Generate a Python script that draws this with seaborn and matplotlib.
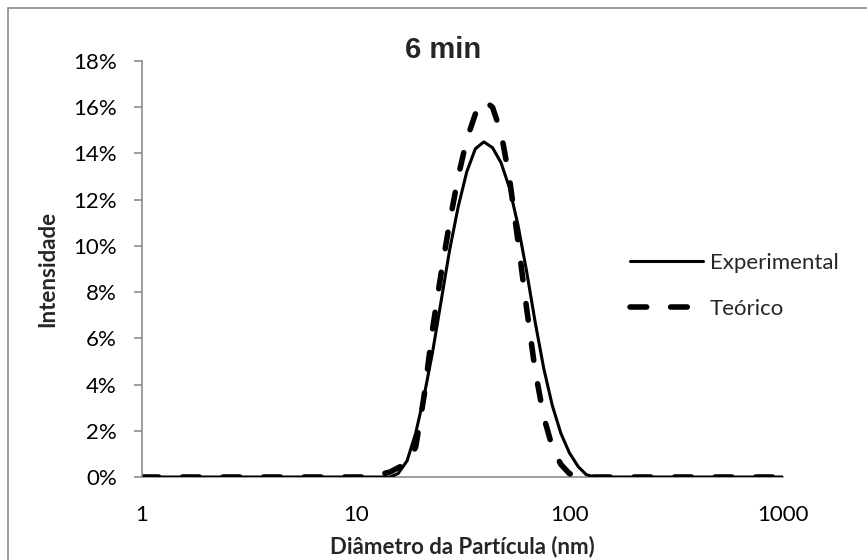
import matplotlib
matplotlib.use("Agg")
import matplotlib.pyplot as plt
from matplotlib.patches import Rectangle
from matplotlib.ticker import FixedLocator, NullLocator, PercentFormatter
import pandas as pd
import seaborn as sns

# Particle size distribution, 6 min sample (diameter in nm, intensity in %)
diam_exp = [1, 2, 3, 5, 8, 10, 12, 13.2, 14.5, 15.8, 17.4, 19.1, 20.9, 22.9, 25.1,
            27.5, 30.2, 33.1, 36.3, 39.8, 43.7, 47.9, 52.5, 57.5, 63.1, 69.2,
            75.9, 83.2, 91.2, 100, 110, 120, 132, 150, 200, 300, 500, 700, 1000]
int_exp = [0, 0, 0, 0, 0, 0, 0, 0, 0, 0.15, 0.7, 1.9, 3.5, 5.4, 7.6,
           9.8, 11.7, 13.2, 14.2, 14.5, 14.25, 13.6, 12.5, 10.9, 8.9, 6.7,
           4.7, 3.1, 1.9, 1.05, 0.45, 0.1, 0, 0, 0, 0, 0, 0, 0]

diam_teo = [1, 2, 3, 5, 8, 10, 11.0, 12.0, 13.2, 14.5, 15.8, 17.4, 19.1, 20.9,
            22.9, 25.1, 27.5, 30.2, 33.1, 36.3, 39.8, 43.7, 47.9, 52.5, 57.5,
            63.1, 69.2, 75.9, 83.2, 91.2, 100, 110, 120, 150, 200, 300, 500,
            700, 1000]
int_teo = [0, 0, 0, 0, 0, 0, 0, 0.02, 0.12, 0.22, 0.4, 0.6, 1.3, 3.5,
           6.4, 8.8, 11.0, 13.0, 14.6, 15.7, 16.3, 16.0, 14.9, 12.9, 10.2,
           7.3, 4.6, 2.6, 1.3, 0.55, 0.15, 0, 0, 0, 0, 0, 0, 0, 0]

x_ticks = [1, 10, 100, 1000]
x_tick_labels = ["1", "10", "100", "1000"]
y_ticks = [0, 2, 4, 6, 8, 10, 12, 14, 16, 18]

exp_df = pd.DataFrame({"diametro": diam_exp, "intensidade": int_exp})
teo_df = pd.DataFrame({"diametro": diam_teo, "intensidade": int_teo})

sns.set_style("white")
plt.rcParams["font.family"] = ["Lato", "DejaVu Sans"]

W, H = 867, 560
fig = plt.figure(figsize=(W / 100, H / 100), dpi=100)
ax = fig.add_axes([142 / W, (H - 477) / H, (783 - 142) / W, (477 - 61) / H])

sns.lineplot(data=exp_df, x="diametro", y="intensidade", ax=ax, color="black",
             linewidth=2.2, errorbar=None, label="Experimental",
             solid_joinstyle="round")
sns.lineplot(data=teo_df, x="diametro", y="intensidade", ax=ax, color="black",
             linewidth=4.0, errorbar=None, label="Teórico",
             linestyle=(0, (3.0, 4.3)), dash_capstyle="round",
             dash_joinstyle="round")

ax.set_xscale("log")
ax.set_xlim(1, 1000)
ax.set_ylim(0, 18)
ax.xaxis.set_major_locator(FixedLocator(x_ticks))
ax.set_xticklabels(x_tick_labels)
ax.xaxis.set_minor_locator(NullLocator())
ax.set_yticks(y_ticks)
ax.yaxis.set_major_formatter(PercentFormatter(xmax=100, decimals=0))

grey = "#8c8c8c"
for side in ("top", "right"):
    ax.spines[side].set_visible(False)
for side in ("left", "bottom"):
    ax.spines[side].set_color(grey)
    ax.spines[side].set_linewidth(1.2)
ax.spines["bottom"].set_zorder(0)

ax.tick_params(axis="x", length=0, pad=20, labelsize=16, colors="black")
ax.tick_params(axis="y", length=6, width=1.2, color=grey, pad=12,
               labelsize=16, labelcolor="black", direction="out", left=True)

ax.set_xlabel("Diâmetro da Partícula (nm)", fontsize=16, fontweight="bold")
ax.set_ylabel("Intensidade", fontsize=16, fontweight="bold")
ax.xaxis.set_label_coords(0.5, (477 - 536) / 416)
ax.yaxis.set_label_coords((58 - 142) / 641, 0.5)

fig.text(443 / W, 1 - 50 / H, "6 min", ha="center", va="center",
         fontsize=21, fontweight="bold", family=["Liberation Sans", "DejaVu Sans"])

leg = ax.legend(loc="center left", bbox_to_anchor=(630 / W, 1 - 286 / H),
                bbox_transform=fig.transFigure, frameon=False, fontsize=16,
                handlelength=3.3, handletextpad=0.3, labelspacing=1.15,
                borderpad=0, borderaxespad=0)

# chart-area border
fig.patches.append(Rectangle((8 / W, -0.05), 1.1, 1 - 8 / H + 0.05,
                             transform=fig.transFigure, fill=False,
                             edgecolor=grey, linewidth=1.2))

fig.savefig("out.png", dpi=100)
